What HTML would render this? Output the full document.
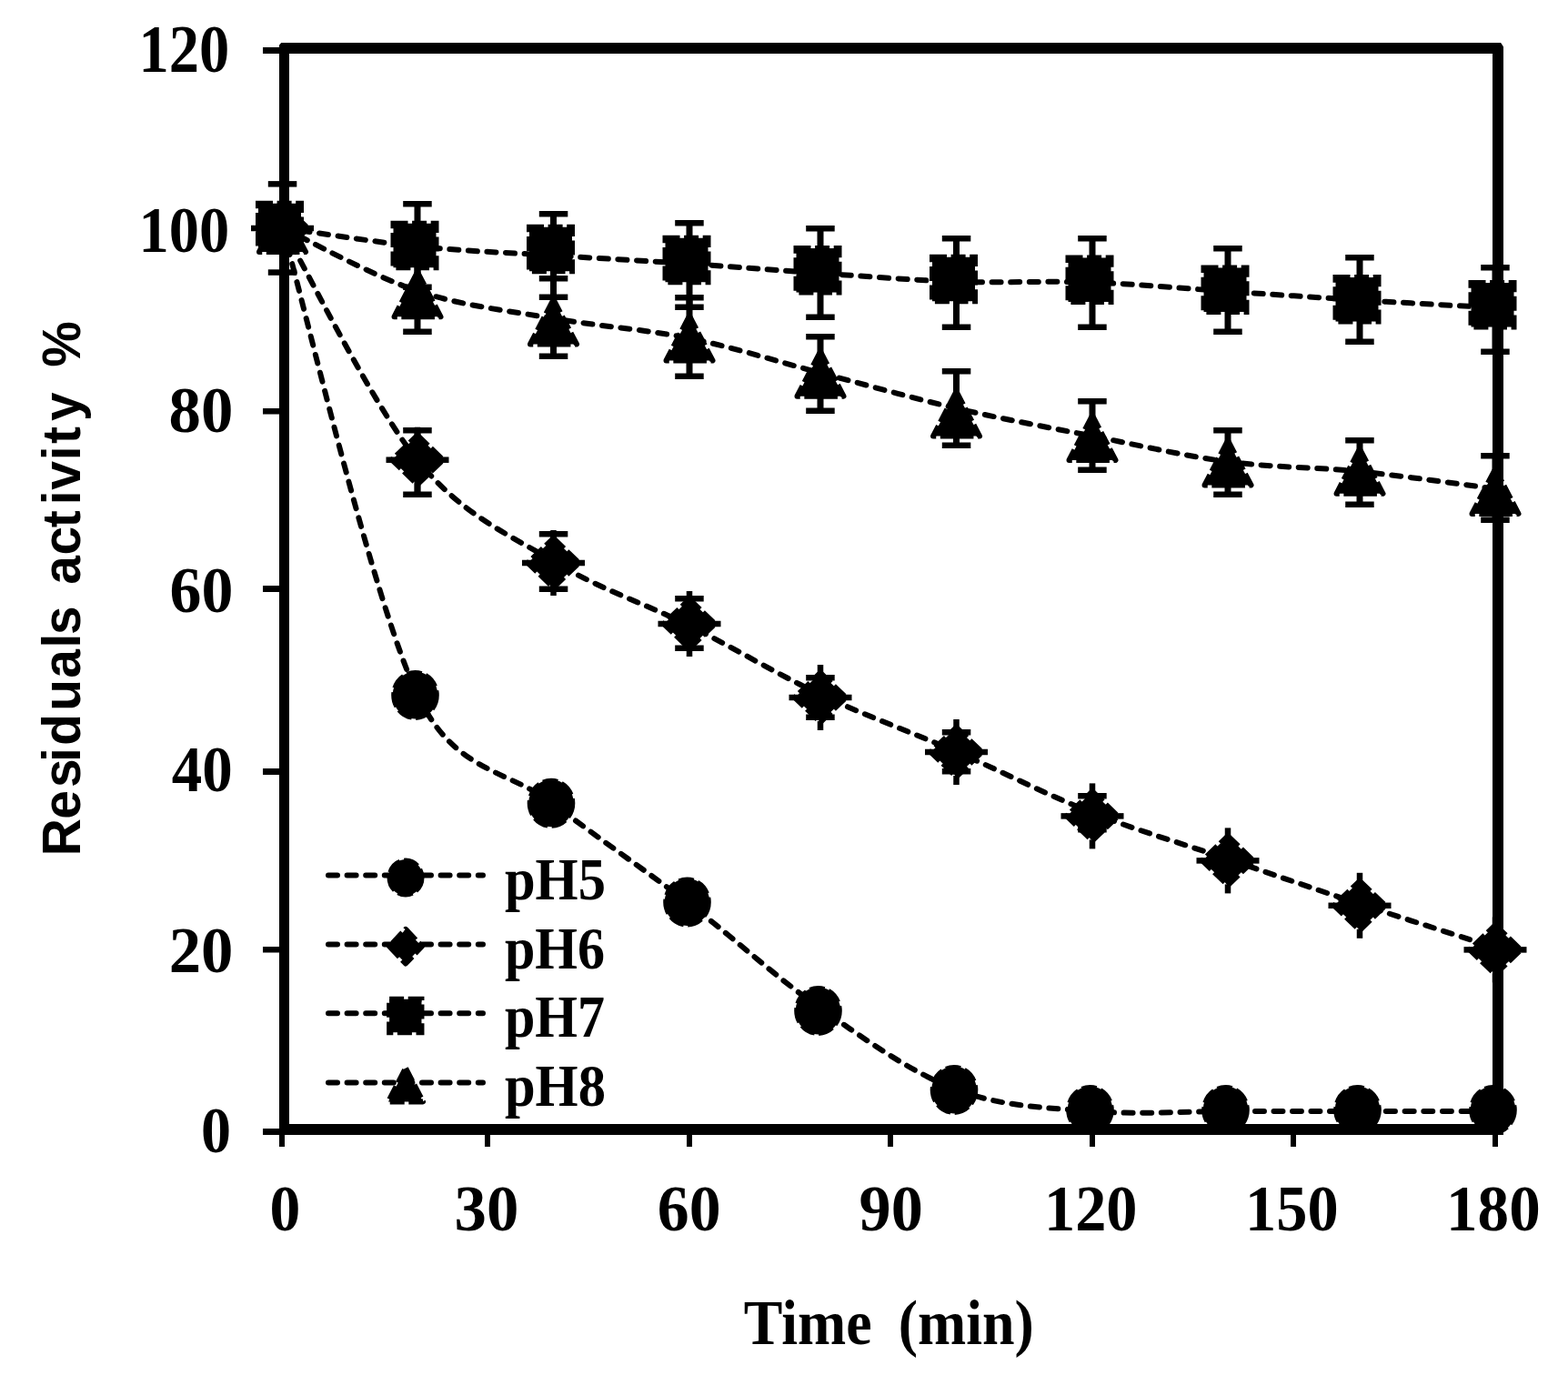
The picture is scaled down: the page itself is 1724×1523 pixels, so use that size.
<!DOCTYPE html>
<html><head><meta charset="utf-8"><title>Residual activity vs time</title>
<style>html,body{margin:0;padding:0;background:#fff;}svg{display:block;}</style></head>
<body>
<svg width="1724" height="1523" viewBox="0 0 1724 1523">
<rect width="1724" height="1523" fill="#fff"/>
<g fill="#000">
<rect x="307" y="47" width="11" height="1201"/>
<rect x="1641" y="47" width="12" height="1201"/>
<rect x="307" y="47" width="1346" height="12"/>
<rect x="307" y="1236" width="1346" height="12"/>
<path d="M306.5 46.5H309.6L306.5 50.2Z" fill="#fff"/>
<path d="M1649.8 46.5H1653.5V52.2Z" fill="#fff"/>
<rect x="289" y="52.0" width="20" height="7.0"/>
<rect x="289" y="250.5" width="20" height="6.5"/>
<rect x="289" y="449.0" width="20" height="6.5"/>
<rect x="289" y="644.0" width="20" height="7.0"/>
<rect x="289" y="845.0" width="20" height="7.0"/>
<rect x="289" y="1041.0" width="20" height="6.5"/>
<rect x="289" y="1241.0" width="20" height="7.0"/>
<rect x="307" y="1246" width="6" height="15"/>
<rect x="533" y="1246" width="6" height="15"/>
<rect x="755" y="1246" width="6" height="15"/>
<rect x="976" y="1246" width="6" height="15"/>
<rect x="1198" y="1246" width="6" height="15"/>
<rect x="1419" y="1246" width="6" height="15"/>
<rect x="1641" y="1246" width="6" height="15"/>
</g>
<g fill="#000">
<path d="M310.50 250.50 C335.25 336.08 409.33 658.42 459.00 764.00 C499.80 850.73 558.67 845.67 608.50 884.00 C658.33 922.33 709.08 956.55 758.00 994.00 C806.92 1031.45 853.08 1074.65 902.00 1108.70 C950.92 1142.75 1001.67 1179.42 1051.50 1198.30 C1101.33 1217.18 1151.25 1218.05 1201.00 1222.00 C1250.75 1225.95 1301.00 1222.00 1350.00 1222.00 C1399.00 1222.00 1446.00 1222.00 1495.00 1222.00 C1544.00 1222.00 1619.17 1222.00 1644.00 1222.00" fill="none" stroke="#000" stroke-width="6.0" stroke-linecap="round" stroke-dasharray="10 10.6"/>
<path d="M310.50 250.50 C335.25 293.08 409.33 444.87 459.00 506.00 C508.67 567.13 558.67 586.97 608.50 617.30 C658.33 647.63 709.08 663.60 758.00 688.00 C806.92 712.40 853.08 740.60 902.00 763.70 C950.92 786.80 1001.67 804.92 1051.50 826.60 C1101.33 848.28 1151.25 874.12 1201.00 893.80 C1250.75 913.48 1301.00 928.00 1350.00 944.70 C1399.00 961.40 1446.00 977.78 1495.00 994.00 C1544.00 1010.22 1619.17 1034.00 1644.00 1042.00" fill="none" stroke="#000" stroke-width="6.0" stroke-linecap="round" stroke-dasharray="10 10.6"/>
<path d="M310.50 250.50 C335.25 253.92 409.33 265.92 459.00 271.00 C508.67 276.08 558.67 277.83 608.50 281.00 C658.33 284.17 709.08 286.75 758.00 290.00 C806.92 293.25 853.08 297.22 902.00 300.50 C950.92 303.78 1001.67 308.03 1051.50 309.70 C1101.33 311.37 1151.25 308.70 1201.00 310.50 C1250.75 312.30 1301.00 317.25 1350.00 320.50 C1399.00 323.75 1446.00 327.00 1495.00 330.00 C1544.00 333.00 1619.17 337.08 1644.00 338.50" fill="none" stroke="#000" stroke-width="6.0" stroke-linecap="round" stroke-dasharray="10 10.6"/>
<path d="M310.50 250.50 C335.25 262.08 409.33 303.38 459.00 320.00 C508.67 336.62 558.67 341.53 608.50 350.20 C658.33 358.87 709.08 362.03 758.00 372.00 C806.92 381.97 853.08 397.17 902.00 410.00 C950.92 422.83 1001.67 437.42 1051.50 449.00 C1101.33 460.58 1151.25 469.72 1201.00 479.50 C1250.75 489.28 1301.00 501.20 1350.00 507.70 C1399.00 514.20 1446.00 513.53 1495.00 518.50 C1544.00 523.47 1619.17 534.33 1644.00 537.50" fill="none" stroke="#000" stroke-width="6.0" stroke-linecap="round" stroke-dasharray="10 10.6"/>
<rect x="307.0" y="199.1" width="7" height="103.7"/>
<rect x="294.8" y="199.1" width="31.5" height="6.5"/>
<rect x="294.8" y="296.3" width="31.5" height="6.5"/>
<rect x="455.5" y="221.0" width="7" height="98.0"/>
<rect x="443.2" y="221.0" width="31.5" height="6.5"/>
<rect x="443.2" y="312.5" width="31.5" height="6.5"/>
<rect x="605.0" y="232.0" width="7" height="98.0"/>
<rect x="592.8" y="232.0" width="31.5" height="6.5"/>
<rect x="592.8" y="323.5" width="31.5" height="6.5"/>
<rect x="754.5" y="242.0" width="7" height="99.0"/>
<rect x="742.2" y="242.0" width="31.5" height="6.5"/>
<rect x="742.2" y="334.5" width="31.5" height="6.5"/>
<rect x="898.5" y="248.0" width="7" height="104.0"/>
<rect x="886.2" y="248.0" width="31.5" height="6.5"/>
<rect x="886.2" y="345.5" width="31.5" height="6.5"/>
<rect x="1048.0" y="259.0" width="7" height="104.0"/>
<rect x="1035.8" y="259.0" width="31.5" height="6.5"/>
<rect x="1035.8" y="356.5" width="31.5" height="6.5"/>
<rect x="1197.5" y="259.0" width="7" height="104.0"/>
<rect x="1185.2" y="259.0" width="31.5" height="6.5"/>
<rect x="1185.2" y="356.5" width="31.5" height="6.5"/>
<rect x="1346.5" y="270.0" width="7" height="98.0"/>
<rect x="1334.2" y="270.0" width="31.5" height="6.5"/>
<rect x="1334.2" y="361.5" width="31.5" height="6.5"/>
<rect x="1491.5" y="280.0" width="7" height="99.0"/>
<rect x="1479.2" y="280.0" width="31.5" height="6.5"/>
<rect x="1479.2" y="372.5" width="31.5" height="6.5"/>
<rect x="1640.5" y="291.0" width="7" height="99.0"/>
<rect x="1628.2" y="291.0" width="31.5" height="6.5"/>
<rect x="1628.2" y="383.5" width="31.5" height="6.5"/>
<rect x="455.5" y="275.0" width="7" height="93.0"/>
<rect x="443.2" y="275.0" width="31.5" height="6.5"/>
<rect x="443.2" y="361.5" width="31.5" height="6.5"/>
<rect x="605.0" y="303.0" width="7" height="92.0"/>
<rect x="592.8" y="303.0" width="31.5" height="6.5"/>
<rect x="592.8" y="388.5" width="31.5" height="6.5"/>
<rect x="754.5" y="324.0" width="7" height="93.0"/>
<rect x="742.2" y="324.0" width="31.5" height="6.5"/>
<rect x="742.2" y="410.5" width="31.5" height="6.5"/>
<rect x="898.5" y="367.0" width="7" height="88.0"/>
<rect x="886.2" y="367.0" width="31.5" height="6.5"/>
<rect x="886.2" y="448.5" width="31.5" height="6.5"/>
<rect x="1048.0" y="405.0" width="7" height="88.0"/>
<rect x="1035.8" y="405.0" width="31.5" height="6.5"/>
<rect x="1035.8" y="486.5" width="31.5" height="6.5"/>
<rect x="1197.5" y="438.0" width="7" height="82.0"/>
<rect x="1185.2" y="438.0" width="31.5" height="6.5"/>
<rect x="1185.2" y="513.5" width="31.5" height="6.5"/>
<rect x="1346.5" y="470.0" width="7" height="77.0"/>
<rect x="1334.2" y="470.0" width="31.5" height="6.5"/>
<rect x="1334.2" y="540.5" width="31.5" height="6.5"/>
<rect x="1491.5" y="481.0" width="7" height="77.0"/>
<rect x="1479.2" y="481.0" width="31.5" height="6.5"/>
<rect x="1479.2" y="551.5" width="31.5" height="6.5"/>
<rect x="1640.5" y="498.0" width="7" height="77.0"/>
<rect x="1628.2" y="498.0" width="31.5" height="6.5"/>
<rect x="1628.2" y="568.5" width="31.5" height="6.5"/>
<rect x="455.5" y="470.0" width="7" height="77.0"/>
<rect x="443.2" y="470.0" width="31.5" height="6.5"/>
<rect x="443.2" y="540.5" width="31.5" height="6.5"/>
<rect x="605.0" y="584.0" width="7" height="67.0"/>
<rect x="592.8" y="584.0" width="31.5" height="6.5"/>
<rect x="592.8" y="644.5" width="31.5" height="6.5"/>
<rect x="754.5" y="655.0" width="7" height="61.0"/>
<rect x="742.2" y="655.0" width="31.5" height="6.5"/>
<rect x="742.2" y="709.5" width="31.5" height="6.5"/>
<rect x="898.5" y="742.0" width="7" height="50.0"/>
<rect x="886.2" y="742.0" width="31.5" height="6.5"/>
<rect x="886.2" y="785.5" width="31.5" height="6.5"/>
<rect x="1048.0" y="802.0" width="7" height="49.5"/>
<rect x="1035.8" y="802.0" width="31.5" height="6.5"/>
<rect x="1035.8" y="845.0" width="31.5" height="6.5"/>
<rect x="1197.5" y="872.0" width="7" height="43.5"/>
<rect x="1185.2" y="872.0" width="31.5" height="6.5"/>
<rect x="1185.2" y="909.0" width="31.5" height="6.5"/>
<ellipse cx="308.00" cy="251.00" rx="24.80" ry="26.00"/><ellipse cx="308.00" cy="251.00" rx="23.30" ry="24.50" fill="none" stroke="#000" stroke-width="6.0" stroke-dasharray="16 4.6"/>
<ellipse cx="456.50" cy="764.40" rx="24.80" ry="26.00"/><ellipse cx="456.50" cy="764.40" rx="23.30" ry="24.50" fill="none" stroke="#000" stroke-width="6.0" stroke-dasharray="16 4.6"/>
<ellipse cx="606.00" cy="883.30" rx="24.80" ry="26.00"/><ellipse cx="606.00" cy="883.30" rx="23.30" ry="24.50" fill="none" stroke="#000" stroke-width="6.0" stroke-dasharray="16 4.6"/>
<ellipse cx="755.50" cy="992.00" rx="24.80" ry="26.00"/><ellipse cx="755.50" cy="992.00" rx="23.30" ry="24.50" fill="none" stroke="#000" stroke-width="6.0" stroke-dasharray="16 4.6"/>
<ellipse cx="899.50" cy="1111.40" rx="24.80" ry="26.00"/><ellipse cx="899.50" cy="1111.40" rx="23.30" ry="24.50" fill="none" stroke="#000" stroke-width="6.0" stroke-dasharray="16 4.6"/>
<ellipse cx="1049.00" cy="1198.40" rx="24.80" ry="26.00"/><ellipse cx="1049.00" cy="1198.40" rx="23.30" ry="24.50" fill="none" stroke="#000" stroke-width="6.0" stroke-dasharray="16 4.6"/>
<ellipse cx="1198.50" cy="1220.50" rx="24.80" ry="26.00"/><ellipse cx="1198.50" cy="1220.50" rx="23.30" ry="24.50" fill="none" stroke="#000" stroke-width="6.0" stroke-dasharray="16 4.6"/>
<ellipse cx="1347.50" cy="1220.50" rx="24.80" ry="26.00"/><ellipse cx="1347.50" cy="1220.50" rx="23.30" ry="24.50" fill="none" stroke="#000" stroke-width="6.0" stroke-dasharray="16 4.6"/>
<ellipse cx="1492.50" cy="1220.50" rx="24.80" ry="26.00"/><ellipse cx="1492.50" cy="1220.50" rx="23.30" ry="24.50" fill="none" stroke="#000" stroke-width="6.0" stroke-dasharray="16 4.6"/>
<ellipse cx="1641.50" cy="1220.50" rx="24.80" ry="26.00"/><ellipse cx="1641.50" cy="1220.50" rx="23.30" ry="24.50" fill="none" stroke="#000" stroke-width="6.0" stroke-dasharray="16 4.6"/>
<path d="M310.50 224.00 L338.50 251.00 L310.50 278.00 L282.50 251.00 Z" fill="#000" stroke="#000" stroke-width="6.0" stroke-linejoin="round" stroke-dasharray="16 4.6"/><rect x="307.25" y="215.00" width="6.5" height="10"/><rect x="307.25" y="277.00" width="6.5" height="10"/><rect x="276.00" y="247.75" width="10" height="6.5"/><rect x="335.00" y="247.75" width="10" height="6.5"/>
<path d="M459.00 478.70 L487.00 505.70 L459.00 532.70 L431.00 505.70 Z" fill="#000" stroke="#000" stroke-width="6.0" stroke-linejoin="round" stroke-dasharray="16 4.6"/><rect x="455.75" y="469.70" width="6.5" height="10"/><rect x="455.75" y="531.70" width="6.5" height="10"/><rect x="424.50" y="502.45" width="10" height="6.5"/><rect x="483.50" y="502.45" width="10" height="6.5"/>
<path d="M608.50 592.00 L636.50 619.00 L608.50 646.00 L580.50 619.00 Z" fill="#000" stroke="#000" stroke-width="6.0" stroke-linejoin="round" stroke-dasharray="16 4.6"/><rect x="605.25" y="583.00" width="6.5" height="10"/><rect x="605.25" y="645.00" width="6.5" height="10"/><rect x="574.00" y="615.75" width="10" height="6.5"/><rect x="633.00" y="615.75" width="10" height="6.5"/>
<path d="M758.00 659.00 L786.00 686.00 L758.00 713.00 L730.00 686.00 Z" fill="#000" stroke="#000" stroke-width="6.0" stroke-linejoin="round" stroke-dasharray="16 4.6"/><rect x="754.75" y="650.00" width="6.5" height="10"/><rect x="754.75" y="712.00" width="6.5" height="10"/><rect x="723.50" y="682.75" width="10" height="6.5"/><rect x="782.50" y="682.75" width="10" height="6.5"/>
<path d="M902.00 740.00 L930.00 767.00 L902.00 794.00 L874.00 767.00 Z" fill="#000" stroke="#000" stroke-width="6.0" stroke-linejoin="round" stroke-dasharray="16 4.6"/><rect x="898.75" y="731.00" width="6.5" height="10"/><rect x="898.75" y="793.00" width="6.5" height="10"/><rect x="867.50" y="763.75" width="10" height="6.5"/><rect x="926.50" y="763.75" width="10" height="6.5"/>
<path d="M1051.50 800.00 L1079.50 827.00 L1051.50 854.00 L1023.50 827.00 Z" fill="#000" stroke="#000" stroke-width="6.0" stroke-linejoin="round" stroke-dasharray="16 4.6"/><rect x="1048.25" y="791.00" width="6.5" height="10"/><rect x="1048.25" y="853.00" width="6.5" height="10"/><rect x="1017.00" y="823.75" width="10" height="6.5"/><rect x="1076.00" y="823.75" width="10" height="6.5"/>
<path d="M1201.00 870.40 L1229.00 897.40 L1201.00 924.40 L1173.00 897.40 Z" fill="#000" stroke="#000" stroke-width="6.0" stroke-linejoin="round" stroke-dasharray="16 4.6"/><rect x="1197.75" y="861.40" width="6.5" height="10"/><rect x="1197.75" y="923.40" width="6.5" height="10"/><rect x="1166.50" y="894.15" width="10" height="6.5"/><rect x="1225.50" y="894.15" width="10" height="6.5"/>
<path d="M1350.00 919.40 L1378.00 946.40 L1350.00 973.40 L1322.00 946.40 Z" fill="#000" stroke="#000" stroke-width="6.0" stroke-linejoin="round" stroke-dasharray="16 4.6"/><rect x="1346.75" y="910.40" width="6.5" height="10"/><rect x="1346.75" y="972.40" width="6.5" height="10"/><rect x="1315.50" y="943.15" width="10" height="6.5"/><rect x="1374.50" y="943.15" width="10" height="6.5"/>
<path d="M1495.00 968.80 L1523.00 995.80 L1495.00 1022.80 L1467.00 995.80 Z" fill="#000" stroke="#000" stroke-width="6.0" stroke-linejoin="round" stroke-dasharray="16 4.6"/><rect x="1491.75" y="959.80" width="6.5" height="10"/><rect x="1491.75" y="1021.80" width="6.5" height="10"/><rect x="1460.50" y="992.55" width="10" height="6.5"/><rect x="1519.50" y="992.55" width="10" height="6.5"/>
<path d="M1644.00 1017.40 L1672.00 1044.40 L1644.00 1071.40 L1616.00 1044.40 Z" fill="#000" stroke="#000" stroke-width="6.0" stroke-linejoin="round" stroke-dasharray="16 4.6"/><rect x="1640.75" y="1008.40" width="6.5" height="10"/><rect x="1640.75" y="1070.40" width="6.5" height="10"/><rect x="1609.50" y="1041.15" width="10" height="6.5"/><rect x="1668.50" y="1041.15" width="10" height="6.5"/>
<rect x="284.00" y="223.75" width="47.00" height="48.50" fill="#000" stroke="#000" stroke-width="6.0" stroke-dasharray="16 4.6"/>
<rect x="432.50" y="245.75" width="47.00" height="48.50" fill="#000" stroke="#000" stroke-width="6.0" stroke-dasharray="16 4.6"/>
<rect x="582.00" y="249.75" width="47.00" height="48.50" fill="#000" stroke="#000" stroke-width="6.0" stroke-dasharray="16 4.6"/>
<rect x="731.50" y="261.75" width="47.00" height="48.50" fill="#000" stroke="#000" stroke-width="6.0" stroke-dasharray="16 4.6"/>
<rect x="875.50" y="273.05" width="47.00" height="48.50" fill="#000" stroke="#000" stroke-width="6.0" stroke-dasharray="16 4.6"/>
<rect x="1025.00" y="282.75" width="47.00" height="48.50" fill="#000" stroke="#000" stroke-width="6.0" stroke-dasharray="16 4.6"/>
<rect x="1174.50" y="283.45" width="47.00" height="48.50" fill="#000" stroke="#000" stroke-width="6.0" stroke-dasharray="16 4.6"/>
<rect x="1323.50" y="294.45" width="47.00" height="48.50" fill="#000" stroke="#000" stroke-width="6.0" stroke-dasharray="16 4.6"/>
<rect x="1468.50" y="305.05" width="47.00" height="48.50" fill="#000" stroke="#000" stroke-width="6.0" stroke-dasharray="16 4.6"/>
<rect x="1617.50" y="311.05" width="47.00" height="48.50" fill="#000" stroke="#000" stroke-width="6.0" stroke-dasharray="16 4.6"/>
<path d="M310.50 228.00 L336.00 277.00 L285.00 277.00 Z" fill="#000" stroke="#000" stroke-width="6.0" stroke-linejoin="round" stroke-dasharray="16 4.6"/>
<path d="M459.00 299.30 L484.50 348.30 L433.50 348.30 Z" fill="#000" stroke="#000" stroke-width="6.0" stroke-linejoin="round" stroke-dasharray="16 4.6"/>
<path d="M608.50 329.50 L634.00 378.50 L583.00 378.50 Z" fill="#000" stroke="#000" stroke-width="6.0" stroke-linejoin="round" stroke-dasharray="16 4.6"/>
<path d="M758.00 347.50 L783.50 396.50 L732.50 396.50 Z" fill="#000" stroke="#000" stroke-width="6.0" stroke-linejoin="round" stroke-dasharray="16 4.6"/>
<path d="M902.00 386.70 L927.50 435.70 L876.50 435.70 Z" fill="#000" stroke="#000" stroke-width="6.0" stroke-linejoin="round" stroke-dasharray="16 4.6"/>
<path d="M1051.50 430.60 L1077.00 479.60 L1026.00 479.60 Z" fill="#000" stroke="#000" stroke-width="6.0" stroke-linejoin="round" stroke-dasharray="16 4.6"/>
<path d="M1201.00 457.00 L1226.50 506.00 L1175.50 506.00 Z" fill="#000" stroke="#000" stroke-width="6.0" stroke-linejoin="round" stroke-dasharray="16 4.6"/>
<path d="M1350.00 484.50 L1375.50 533.50 L1324.50 533.50 Z" fill="#000" stroke="#000" stroke-width="6.0" stroke-linejoin="round" stroke-dasharray="16 4.6"/>
<path d="M1495.00 493.80 L1520.50 542.80 L1469.50 542.80 Z" fill="#000" stroke="#000" stroke-width="6.0" stroke-linejoin="round" stroke-dasharray="16 4.6"/>
<path d="M1644.00 515.90 L1669.50 564.90 L1618.50 564.90 Z" fill="#000" stroke="#000" stroke-width="6.0" stroke-linejoin="round" stroke-dasharray="16 4.6"/>
</g>
<g fill="#000">
<path d="M361 962.4 H531" fill="none" stroke="#000" stroke-width="6.0" stroke-linecap="round" stroke-dasharray="10 10.6"/>
<path d="M361 1038.6 H531" fill="none" stroke="#000" stroke-width="6.0" stroke-linecap="round" stroke-dasharray="10 10.6"/>
<path d="M361 1114.2 H531" fill="none" stroke="#000" stroke-width="6.0" stroke-linecap="round" stroke-dasharray="10 10.6"/>
<path d="M361 1190.6 H531" fill="none" stroke="#000" stroke-width="6.0" stroke-linecap="round" stroke-dasharray="10 10.6"/>
<ellipse cx="446.00" cy="965.00" rx="19.01" ry="19.95"/><ellipse cx="446.00" cy="965.00" rx="17.51" ry="18.45" fill="none" stroke="#000" stroke-width="6.0" stroke-dasharray="16 4.6"/>
<path d="M446.00 1021.90 L463.80 1040.70 L446.00 1059.50 L428.20 1040.70 Z" fill="#000" stroke="#000" stroke-width="6.0" stroke-linejoin="round" stroke-dasharray="16 4.6"/>
<rect x="428.13" y="1098.74" width="35.34" height="36.51" fill="#000" stroke="#000" stroke-width="6.0" stroke-dasharray="16 4.6"/>
<path d="M446.00 1174.55 L465.01 1211.45 L426.99 1211.45 Z" fill="#000" stroke="#000" stroke-width="6.0" stroke-linejoin="round" stroke-dasharray="16 4.6"/>
</g>
<g fill="#000" font-family="'Liberation Serif', serif" font-weight="bold">
<text transform="translate(152.60 78.76) scale(0.06652 0.07302)" font-size="1000">120</text>
<text transform="translate(152.61 276.76) scale(0.06644 0.07287)" font-size="1000">100</text>
<text transform="translate(185.59 474.77) scale(0.07083 0.07258)" font-size="1000">80</text>
<text transform="translate(186.52 672.57) scale(0.06987 0.07244)" font-size="1000">60</text>
<text transform="translate(188.70 870.37) scale(0.06699 0.07244)" font-size="1000">40</text>
<text transform="translate(185.69 1069.27) scale(0.07072 0.07215)" font-size="1000">20</text>
<text transform="translate(220.94 1267.46) scale(0.06606 0.07273)" font-size="1000">0</text>
<text transform="translate(296.59 1352.56) scale(0.06766 0.07273)" font-size="1000">0</text>
<text transform="translate(499.49 1352.56) scale(0.07083 0.07273)" font-size="1000">30</text>
<text transform="translate(722.82 1352.56) scale(0.06976 0.07273)" font-size="1000">60</text>
<text transform="translate(944.50 1352.56) scale(0.07030 0.07273)" font-size="1000">90</text>
<text transform="translate(1147.96 1352.56) scale(0.06839 0.07273)" font-size="1000">120</text>
<text transform="translate(1369.06 1352.56) scale(0.06839 0.07273)" font-size="1000">150</text>
<text transform="translate(1590.11 1352.56) scale(0.06903 0.07273)" font-size="1000">180</text>
<text transform="translate(554.90 988.80) scale(0.06057 0.06537)" font-size="1000">pH5</text>
<text transform="translate(554.90 1065.10) scale(0.06005 0.06537)" font-size="1000">pH6</text>
<text transform="translate(554.90 1139.80) scale(0.06005 0.06537)" font-size="1000">pH7</text>
<text transform="translate(554.90 1216.00) scale(0.06057 0.06537)" font-size="1000">pH8</text>
<text transform="translate(817.80 1477.79) scale(0.06388 0.06953)" font-size="1000">Time <tspan dx="209.2">(min)</tspan></text>
</g>
<g fill="#000" font-weight="bold">
<text transform="translate(88.00 936.00) rotate(-90) scale(0.05689 0.06002)" x="-92 620 1232 1724 2042 2712 3343 3930 4185 4671 5157 5723 6253 6694 6984 7556 7875 8316 8837 9357" y="0" font-family="'Liberation Sans', sans-serif" font-size="1000">Residuals activity %</text>
</g>
</svg>
</body></html>
